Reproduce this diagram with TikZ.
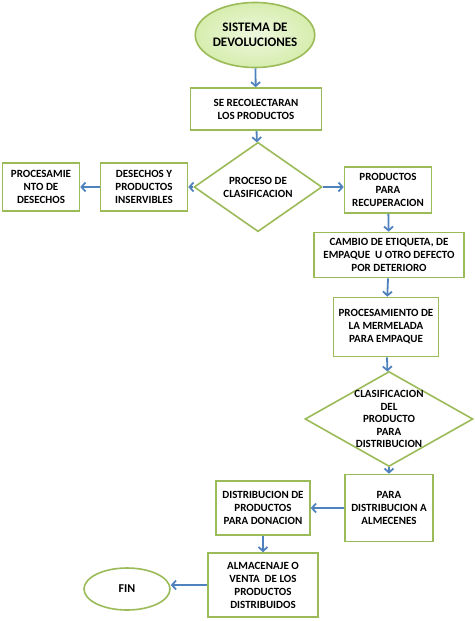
\documentclass[tikz,border=0pt]{standalone}
\usepackage{fontspec}
\setmainfont{Carlito}
\usetikzlibrary{shapes.geometric,arrows.meta}

\definecolor{verde}{HTML}{9BBB59}
\definecolor{verdeclaro}{HTML}{D6EDAE}
\definecolor{azul}{HTML}{4F81BD}

\tikzset{
  caja/.style={draw=verde, line width=1.6pt, fill=white, align=center, inner sep=1pt,
    font=\bfseries\fontsize{11}{13}\selectfont},
  rombo/.style={diamond, draw=verde, line width=1.6pt, fill=white, align=center, inner sep=0pt,
    font=\bfseries\fontsize{11}{13}\selectfont},
  elipse/.style={ellipse, draw=verde, line width=1.6pt, align=center, inner sep=0pt},
  flecha/.style={draw=azul, line width=1.8pt, -{Straight Barb[length=4pt,width=9pt,line width=1.8pt]}}
}

\begin{document}
\begin{tikzpicture}[x=1pt,y=-1pt]

\useasboundingbox (0,0) rectangle (474,621);

\node[elipse, inner color=white!60!verdeclaro, outer color=verdeclaro, minimum width=112, minimum height=65,
  font=\bfseries\fontsize{13}{14.5}\selectfont] (inicio) at (255,35) {SISTEMA DE\\DEVOLUCIONES};

\node[caja, minimum width=131, minimum height=42] (recolecta) at (256,109) {SE RECOLECTARAN\\LOS PRODUCTOS};

\node[rombo, minimum width=128, minimum height=74] (clasif) at (258,187) {PROCESO DE\\CLASIFICACION};

\node[caja, minimum width=87, minimum height=48] (desechos) at (144,187) {DESECHOS Y\\PRODUCTOS\\INSERVIBLES};
\node[caja, minimum width=77, minimum height=48] (procdes) at (41,187) {PROCESAMIE\\NTO DE\\DESECHOS};

\node[caja, minimum width=87, minimum height=46] (recup) at (388,190) {PRODUCTOS\\PARA\\RECUPERACION};
\node[caja, minimum width=150, minimum height=45] (cambio) at (389,255) {CAMBIO DE ETIQUETA, DE\\EMPAQUE\ \ U OTRO DEFECTO\\POR DETERIORO};
\node[caja, minimum width=105, minimum height=59] (mermelada) at (386,327) {PROCESAMIENTO DE\\LA MERMELADA\\PARA EMPAQUE};

\node[rombo, inner sep=-14pt, minimum width=168, minimum height=95,
  font=\bfseries\fontsize{11}{12.5}\selectfont] (distrib) at (389,419)
  {CLASIFICACION\\DEL\\PRODUCTO\\PARA\\DISTRIBUCION};

\node[caja, minimum width=88, minimum height=67] (almacenes) at (389,508) {PARA\\DISTRIBUCION A\\ALMECENES};
\node[caja, minimum width=94, minimum height=54] (donacion) at (263,508) {DISTRIBUCION DE\\PRODUCTOS\\PARA DONACION};
\node[caja, minimum width=110, minimum height=64] (venta) at (263,585) {ALMACENAJE O\\VENTA\ \ DE LOS\\PRODUCTOS\\DISTRIBUIDOS};

\node[elipse, fill=white, minimum width=86, minimum height=42,
  font=\bfseries\fontsize{12}{14}\selectfont] (fin) at (127,589) {FIN};

\draw[flecha] (inicio) -- (recolecta);
\draw[flecha] (recolecta) -- (clasif);
\draw[flecha] (clasif) -- (clasif -| desechos.east);
\draw[flecha] (desechos) -- (procdes);
\draw[flecha] (clasif.east) -- (clasif.east -| recup.west);
\draw[flecha] (recup) -- (cambio);
\draw[flecha] (cambio) -- (mermelada);
\draw[flecha] (mermelada) -- (distrib);
\draw[flecha] (distrib) -- (almacenes);
\draw[flecha] (almacenes) -- (donacion);
\draw[flecha] (donacion) -- (venta);
\draw[flecha] (venta) -- (venta -| fin.east);

\end{tikzpicture}
\end{document}
